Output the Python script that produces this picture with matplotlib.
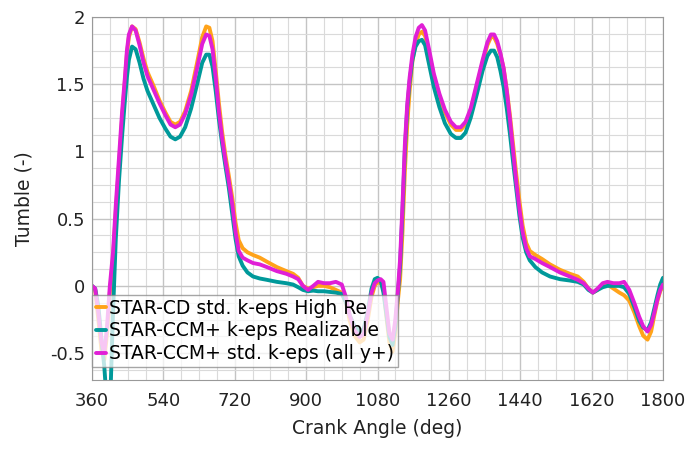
import matplotlib
matplotlib.use("Agg")
import matplotlib.pyplot as plt
from matplotlib.ticker import MultipleLocator

# crank angle (deg), shared by all three runs
angle = [360, 368, 376, 384, 391, 398, 405, 413, 420, 428, 436, 443, 448, 453, 461,
         470, 480, 490, 500, 515, 530, 545, 558, 570, 582, 595, 610, 625, 638, 648,
         656, 664, 672, 680, 688, 696, 705, 714, 722, 730, 740, 752, 766, 783, 801,
         826, 850, 867, 880, 892, 905, 918, 930, 945, 960, 975, 990, 1000, 1010, 1022,
         1035, 1045, 1055, 1065, 1073, 1080, 1088, 1095, 1102, 1110, 1118, 1125, 1131, 1137, 1143,
         1149, 1155, 1161, 1168, 1176, 1184, 1192, 1200, 1210, 1222, 1236, 1250, 1265, 1278, 1290,
         1302, 1315, 1330, 1345, 1357, 1366, 1374, 1382, 1390, 1398, 1406, 1414, 1422, 1430, 1438,
         1446, 1455, 1464, 1478, 1495, 1515, 1540, 1565, 1585, 1600, 1612, 1623, 1635, 1648, 1660,
         1675, 1690, 1702, 1715, 1728, 1740, 1750, 1761, 1770, 1778, 1786, 1793, 1800]

star_cd = [0.0, -0.03, -0.25, -0.48, -0.55, -0.35, -0.05, 0.2, 0.55, 0.9, 1.25, 1.52, 1.72, 1.85, 1.93,
           1.91, 1.81, 1.69, 1.59, 1.49, 1.38, 1.29, 1.22, 1.2, 1.22, 1.3, 1.45, 1.66, 1.85, 1.93,
           1.92, 1.82, 1.6, 1.36, 1.15, 0.98, 0.82, 0.65, 0.47, 0.34, 0.28, 0.25, 0.23, 0.21, 0.18,
           0.14, 0.11, 0.09, 0.06, 0.0, -0.02, -0.01, 0.0, 0.0, -0.01, -0.03, -0.05, -0.12, -0.26, -0.37,
           -0.42, -0.4, -0.26, -0.08, 0.0, 0.03, 0.02, -0.02, -0.22, -0.42, -0.49, -0.35, -0.12, 0.05, 0.4,
           0.85, 1.2, 1.45, 1.67, 1.8, 1.87, 1.89, 1.86, 1.73, 1.56, 1.41, 1.29, 1.2, 1.16, 1.16,
           1.2, 1.3, 1.48, 1.66, 1.79, 1.85, 1.85, 1.8, 1.72, 1.62, 1.46, 1.27, 1.05, 0.83, 0.63,
           0.45, 0.32, 0.26, 0.23, 0.2, 0.16, 0.12, 0.09, 0.07, 0.03, -0.02, -0.05, -0.03, 0.01, 0.01,
           -0.02, -0.05, -0.07, -0.11, -0.2, -0.3, -0.37, -0.4, -0.34, -0.22, -0.11, -0.04, 0.0]

ccm_real = [0.0, -0.02, -0.15, -0.4, -0.6, -0.9, -0.95, -0.2, 0.35, 0.78, 1.12, 1.38, 1.55, 1.68, 1.78,
            1.76, 1.66, 1.54, 1.45, 1.35, 1.25, 1.17, 1.11, 1.09, 1.11, 1.18, 1.32, 1.5, 1.66, 1.72,
            1.72, 1.63, 1.45, 1.24, 1.06, 0.9, 0.73, 0.53, 0.35, 0.22, 0.15, 0.1, 0.07, 0.055, 0.045,
            0.03, 0.02, 0.01, -0.01, -0.03, -0.04, -0.035, -0.04, -0.04, -0.045, -0.05, -0.06, -0.12, -0.22, -0.3,
            -0.34, -0.32, -0.2, -0.02, 0.05, 0.06, 0.04, -0.05, -0.2, -0.38, -0.44, -0.3, -0.08, 0.15, 0.55,
            1.0, 1.32, 1.52, 1.68, 1.78, 1.82, 1.83, 1.79, 1.65, 1.48, 1.33, 1.21, 1.13, 1.1, 1.1,
            1.14, 1.25, 1.42, 1.6, 1.71, 1.75, 1.75, 1.7, 1.6, 1.48, 1.32, 1.13, 0.92, 0.72, 0.52,
            0.36, 0.25, 0.19, 0.14, 0.1, 0.07, 0.05, 0.04, 0.03, 0.01, -0.03, -0.05, -0.03, -0.01, 0.0,
            0.0, 0.0, -0.01, -0.06, -0.16, -0.26, -0.31, -0.33, -0.27, -0.17, -0.07, 0.01, 0.06]

ccm_std = [0.0, -0.02, -0.2, -0.42, -0.5, -0.3, 0.0, 0.25, 0.6, 0.95, 1.3, 1.55, 1.75, 1.87, 1.93,
           1.9, 1.79, 1.66, 1.56, 1.46, 1.36, 1.27, 1.2, 1.18, 1.2, 1.28, 1.42, 1.62, 1.8, 1.87,
           1.86, 1.76, 1.55, 1.3, 1.1, 0.94, 0.78, 0.6, 0.4, 0.26, 0.21, 0.19, 0.17, 0.16, 0.14,
           0.11, 0.09, 0.07, 0.05, 0.0, -0.03, 0.0, 0.03, 0.02, 0.02, 0.03, 0.01, -0.08, -0.22, -0.33,
           -0.38, -0.36, -0.22, -0.05, 0.02, 0.04, 0.05, 0.03, -0.15, -0.35, -0.4, -0.25, -0.05, 0.2, 0.6,
           1.05, 1.35, 1.55, 1.72, 1.85, 1.92, 1.94, 1.9, 1.76, 1.58, 1.43, 1.31, 1.22, 1.18, 1.18,
           1.22, 1.32, 1.5, 1.68, 1.81, 1.87, 1.87, 1.82, 1.73, 1.62, 1.45, 1.24, 1.0, 0.77, 0.57,
           0.4, 0.28, 0.22, 0.2, 0.17, 0.14, 0.1, 0.07, 0.045, 0.02, -0.02, -0.05, -0.02, 0.02, 0.03,
           0.02, 0.02, 0.03, -0.03, -0.13, -0.23, -0.3, -0.34, -0.29, -0.2, -0.1, -0.03, 0.01]

labels = ["STAR-CD std. k-eps High Re",
          "STAR-CCM+ k-eps Realizable",
          "STAR-CCM+ std. k-eps (all y+)"]
colors = ["#ffa31a", "#00999a", "#e01fd6"]

x_ticks = [360, 540, 720, 900, 1080, 1260, 1440, 1620, 1800]
y_ticks = [-0.5, 0, 0.5, 1, 1.5, 2]
y_tick_labels = ["-0.5", "0", "0.5", "1", "1.5", "2"]

fig = plt.figure(figsize=(6.91, 4.51), dpi=100)
ax = fig.add_axes([92 / 691, 1 - 380 / 451, 571 / 691, 363 / 451])

for vals, lab, col in zip([star_cd, ccm_real, ccm_std], labels, colors):
    ax.plot(angle, vals, color=col, lw=2.8, label=lab,
            solid_joinstyle="round", solid_capstyle="round")

ax.set_xlim(360, 1800)
ax.set_ylim(-0.7, 2)
ax.set_xticks(x_ticks)
ax.set_yticks(y_ticks)
ax.set_yticklabels(y_tick_labels)
ax.xaxis.set_minor_locator(MultipleLocator(45))
ax.yaxis.set_minor_locator(MultipleLocator(0.125))
ax.grid(which="major", color="#c4c4c4", lw=1.0)
ax.grid(which="minor", color="#dadada", lw=0.8)
ax.set_axisbelow(True)
ax.tick_params(which="both", length=0, labelsize=13, colors="#222222")
ax.tick_params(axis="x", pad=9)
ax.tick_params(axis="y", pad=5)
for sp in ax.spines.values():
    sp.set_color("#999999")

ax.set_xlabel("Crank Angle (deg)", fontsize=13.5, color="#222222", labelpad=6)
ax.set_ylabel("Tumble (-)", fontsize=13.5, color="#222222", labelpad=12)

leg = ax.legend(loc="lower left", bbox_to_anchor=(0, 0.036), borderaxespad=0,
                fontsize=13.5, handlelength=0.55, handletextpad=0.15,
                labelspacing=0.2, borderpad=0.2, fancybox=False, framealpha=0.75,
                edgecolor="#888888")
leg.get_frame().set_linewidth(1.0)

fig.savefig("out.png", dpi=100)
